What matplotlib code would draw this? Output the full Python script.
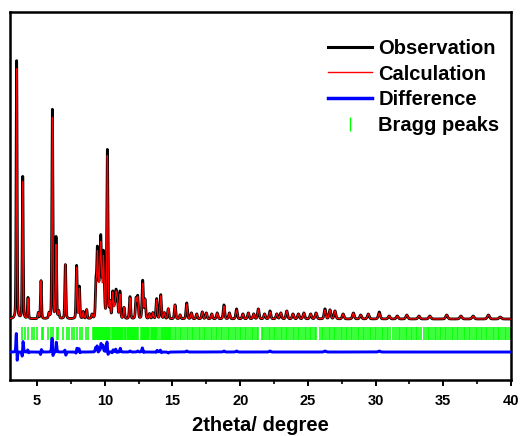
import matplotlib
matplotlib.use("Agg")
import matplotlib.pyplot as plt
from matplotlib.lines import Line2D
from matplotlib.ticker import MultipleLocator
import numpy as np

plt.rcParams['font.family'] = ['Liberation Sans', 'DejaVu Sans']
plt.rcParams['font.weight'] = 'bold'

# reflections (2theta, intensity a.u.)
peak_pos = [3.49, 3.94, 4.33, 5.09, 5.29, 5.88, 6.13, 6.40, 6.60, 7.09,
            7.92, 8.12, 8.41, 8.66, 9.06, 9.35, 9.45, 9.53, 9.62, 9.70,
            9.78, 9.89, 9.96, 10.19, 10.39, 10.59, 10.72, 10.83, 10.93, 11.12,
            11.42, 11.86, 12.31, 12.43, 12.80, 12.97, 13.30, 13.55, 13.83, 14.13,
            14.40, 14.69, 15.19, 15.56, 16.05, 16.40, 16.79, 17.20, 17.50, 17.90,
            18.30, 18.80, 19.20, 19.73, 20.20, 20.60, 21.00, 21.34, 21.80, 22.20,
            22.70, 23.00, 23.44, 23.90, 24.30, 24.70, 25.20, 25.60, 26.26, 26.63,
            27.00, 27.60, 28.36, 28.90, 29.46, 30.27, 31.00, 31.60, 32.30, 33.20,
            34.00, 35.25, 36.30, 37.20, 38.33, 39.20]
obs_int = [258, 142, 21, 6, 38, 5, 209, 81, 7, 54,
           53, 32, 7, 9, 4, 35, 63, 25, 30, 70,
           30, 58, 20, 168, 15, 26, 12, 26, 18, 27,
           11, 22, 20, 22, 38, 19, 5, 6, 20, 24,
           6, 10, 14, 4, 16, 6, 5, 7, 6, 5,
           6, 14, 6, 10, 5, 6, 5, 10, 5, 8,
           5, 6, 8, 5, 5, 6, 5, 6, 10, 9,
           8, 5, 6, 4, 5, 7, 3, 3, 4, 3,
           3, 4, 3, 3, 4, 2]
calc_int = [250, 137, 20, 6, 38, 5, 201, 73, 7, 55,
            51, 30, 7, 9, 4, 32, 58, 25, 28, 64,
            28, 53, 19, 162, 15, 25, 12, 24, 18, 24,
            11, 21, 20, 21, 35, 19, 5, 6, 19, 23,
            6, 11, 14, 4, 15, 6, 5, 7, 6, 5,
            6, 13, 6, 9, 5, 6, 5, 10, 5, 7,
            5, 6, 8, 5, 5, 6, 5, 6, 9, 9,
            8, 5, 6, 4, 5, 6, 3, 3, 4, 3,
            3, 4, 3, 3, 4, 2]
# small misfit of the calculated positions for the strongest lines
shift_pos = [3.49, 3.94, 4.33, 5.29, 6.13, 6.40, 7.09, 7.92, 8.12, 9.35,
             9.45, 9.70, 9.89, 10.19, 10.59, 10.83, 11.12, 12.80, 13.83, 14.13]
shift_val = [0.003, -0.003, 0.004, -0.004, 0.0025, -0.003, 0.003, -0.003, 0.004, 0.004,
             0.003, -0.003, 0.003, 0.0025, -0.004, 0.004, -0.004, 0.004, -0.004, 0.004]

background = 1.0

bragg_pos = [3.91, 4.11, 4.35, 4.60, 4.77, 4.97, 5.34, 5.46, 5.83, 6.01,
             6.20, 6.45, 6.57, 6.94, 7.19, 7.36, 7.56, 7.73, 7.93, 8.17,
             8.34, 8.61, 8.78,
             9.13, 9.20, 9.27, 9.35, 9.42, 9.49, 9.57, 9.64, 9.71, 9.79,
             9.86, 9.93, 10.01, 10.08, 10.16, 10.24, 10.31, 10.39,
             10.53, 10.61, 10.68, 10.76, 10.84, 10.91, 10.99, 11.07, 11.15, 11.22,
             11.30, 11.38, 11.46, 11.53, 11.61, 11.69, 11.77, 11.84, 11.92, 12.00,
             12.08, 12.16, 12.24, 12.32, 12.40, 12.48,
             12.68, 12.75, 12.83, 12.91, 12.99, 13.07, 13.15, 13.22, 13.30, 13.38,
             13.46, 13.54, 13.62, 13.70, 13.78, 13.86,
             14.04, 14.12, 14.20, 14.28, 14.36, 14.44, 14.52, 14.60, 14.68, 14.76,
             14.84, 14.92,
             15.03, 15.16, 15.28, 15.41, 15.54, 15.66, 15.79, 15.92,
             16.04, 16.17, 16.29, 16.42, 16.55, 16.67, 16.80, 16.93,
             17.05, 17.18, 17.30, 17.43, 17.56, 17.68, 17.81, 17.94,
             18.06, 18.19, 18.31, 18.44, 18.57, 18.69, 18.82, 18.95,
             19.07, 19.20, 19.32, 19.45, 19.58, 19.70, 19.83, 19.96,
             20.08, 20.21, 20.33, 20.46, 20.59, 20.71, 20.84, 20.97,
             21.09, 21.22, 21.34, 21.59, 21.72, 21.85, 21.97,
             22.10, 22.22, 22.35, 22.48, 22.60, 22.73, 22.86, 22.98,
             23.11, 23.23, 23.36, 23.49, 23.61, 23.74, 23.87, 23.99,
             24.12, 24.24, 24.37, 24.50, 24.62, 24.75, 24.88, 25.00,
             25.13, 25.25, 25.38, 25.51, 25.63, 25.90,
             26.02, 26.15, 26.27, 26.40, 26.53, 26.65, 26.78, 26.91,
             27.03, 27.16, 27.28, 27.41, 27.54, 27.66, 27.79, 27.92,
             28.04, 28.17, 28.29, 28.42, 28.55, 28.67, 28.80, 28.93,
             29.05, 29.18, 29.30, 29.43, 29.56, 29.68, 29.81, 29.94,
             30.06, 30.19, 30.31, 30.44, 30.57, 30.69, 30.82, 30.95,
             31.07, 31.32, 31.45, 31.58, 31.70, 31.83, 31.96,
             32.08, 32.21, 32.33, 32.46, 32.59, 32.71, 32.84, 32.97,
             33.09, 33.22, 33.34, 33.59, 33.72, 33.85, 33.97,
             34.10, 34.22, 34.35, 34.48, 34.60, 34.73, 34.86, 34.98,
             35.11, 35.23, 35.36, 35.49, 35.61, 35.74, 35.87, 35.99,
             36.12, 36.24, 36.37, 36.50, 36.62, 36.75, 36.88, 37.00,
             37.13, 37.25, 37.38, 37.51, 37.63, 37.76, 37.89, 38.01,
             38.14, 38.26, 38.39, 38.52, 38.64, 38.77, 38.90, 39.02,
             39.15, 39.27, 39.40, 39.53, 39.65, 39.78, 39.91]

# vertical placement of the tick row and the difference curve
tick_lo, tick_hi = -20, -7
diff_offset = -32


def profile(x, pos, inten, shifts):
    y = np.full_like(x, background)
    for p, h, s in zip(pos, inten, shifts):
        fwhm = 0.07 + 0.003 * p
        d = x - (p + s)
        g = np.exp(-4 * np.log(2) * (d / fwhm) ** 2)
        l = 1.0 / (1.0 + 4 * (d / fwhm) ** 2)
        y += h * (0.75 * g + 0.25 * l)
    return y


x = np.arange(3.0, 40.0, 0.002)
shift_map = dict(zip(shift_pos, shift_val))
calc_shift = [shift_map.get(p, 0.0) for p in peak_pos]
y_obs = profile(x, peak_pos, obs_int, [0.0] * len(peak_pos))
y_calc = profile(x, peak_pos, calc_int, calc_shift)
y_diff = y_obs - y_calc + diff_offset

fig = plt.figure(figsize=(5.26, 4.36), dpi=100)
ax = fig.add_axes([0.019, 0.1284, 0.9525, 0.8441])

ax.plot(x, y_obs, color='black', lw=2.0, zorder=3)
ax.plot(x, y_calc, color='red', lw=0.9, zorder=4)
ax.vlines(bragg_pos, tick_lo, tick_hi, color='#00ff00', lw=1.1, zorder=2)
ax.plot(x, y_diff, color='blue', lw=2.1, zorder=5)

ax.set_xlim(3, 40)
ax.set_ylim(-60, 308)
ax.set_yticks([])
ax.xaxis.set_major_locator(MultipleLocator(5))
ax.xaxis.set_minor_locator(MultipleLocator(2.5))
ax.tick_params(axis='x', which='major', direction='out', length=4, width=1.4,
               labelsize=10.5, pad=6)
ax.tick_params(axis='x', which='minor', direction='out', length=3, width=1.2)
for lab in ax.get_xticklabels():
    lab.set_fontweight('bold')
for sp in ax.spines.values():
    sp.set_linewidth(1.8)

ax.set_xlabel('2theta/ degree', fontsize=14.5, fontweight='bold', labelpad=6)

handles = [Line2D([], [], color='black', lw=2.2),
           Line2D([], [], color='red', lw=1.0),
           Line2D([], [], color='blue', lw=2.5),
           Line2D([], [], color='#00ff00', marker='|', ls='none', markersize=10, mew=1)]
labels = ['Observation', 'Calculation', 'Difference', 'Bragg peaks']
ax.legend(handles, labels, loc='upper left', bbox_to_anchor=(0.635, 0.927),
          frameon=False, handlelength=2.2, handletextpad=0.3, labelspacing=0.33,
          borderpad=0, borderaxespad=0, prop={'size': 14.5, 'weight': 'bold'})

fig.savefig('out.png', dpi=100)
